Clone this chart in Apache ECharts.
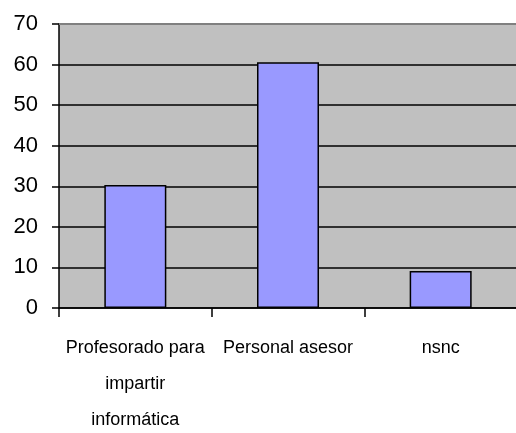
<!DOCTYPE html>
<html>
<head>
<meta charset="utf-8">
<script src="https://cdn.jsdelivr.net/npm/echarts@6/dist/echarts.min.js"></script>
<style>
  html, body { margin: 0; padding: 0; background: #fff; }
  #chart { width: 516px; height: 433px; }
</style>
</head>
<body>
<div id="chart"></div>
<script>
const categories = ['Profesorado para\nimpartir\ninformática', 'Personal asesor', 'nsnc']
const values = [30.3, 60.6, 9.1]
const yTicks = [0, 10, 20, 30, 40, 50, 60, 70]

const myChart = echarts.init(document.getElementById('chart'))

myChart.setOption({
  animation: false,
  grid: {
    left: 59,
    top: 24,
    width: 458,
    height: 284,
    outerBoundsMode: 'none',
    containLabel: false,
    show: true,
    backgroundColor: '#C0C0C0',
    borderWidth: 0
  },
  xAxis: {
    type: 'category',
    data: categories,
    axisLine: { lineStyle: { color: '#000', width: 1.5 } },
    axisTick: { show: true, length: 9, lineStyle: { color: '#000', width: 1.5 } },
    axisLabel: {
      interval: 0,
      color: '#000',
      fontFamily: '"Liberation Sans Narrow", "Arial Narrow", "Liberation Sans", sans-serif',
      fontSize: 18,
      lineHeight: 36,
      margin: 22
    }
  },
  yAxis: {
    type: 'value',
    min: yTicks[0],
    max: yTicks[yTicks.length - 1],
    interval: 10,
    axisLine: { show: true, lineStyle: { color: '#000', width: 1.5 } },
    axisTick: { show: true, length: 7, lineStyle: { color: '#000', width: 1.5 } },
    axisLabel: {
      color: '#000',
      fontFamily: '"Liberation Sans", Arial, sans-serif',
      fontSize: 22,
      margin: 21
    },
    splitLine: { show: true, lineStyle: { color: '#000', width: 1.5 } }
  },
  series: [
    {
      type: 'bar',
      data: values,
      barWidth: 62,
      itemStyle: {
        color: '#9999FF',
        borderColor: '#000',
        borderWidth: 1.5
      }
    }
  ],
  graphic: [
    {
      type: 'line',
      shape: { x1: 59, y1: 24, x2: 516, y2: 24 },
      style: { stroke: '#808080', lineWidth: 2 },
      z: 100
    }
  ]
})
</script>
</body>
</html>
